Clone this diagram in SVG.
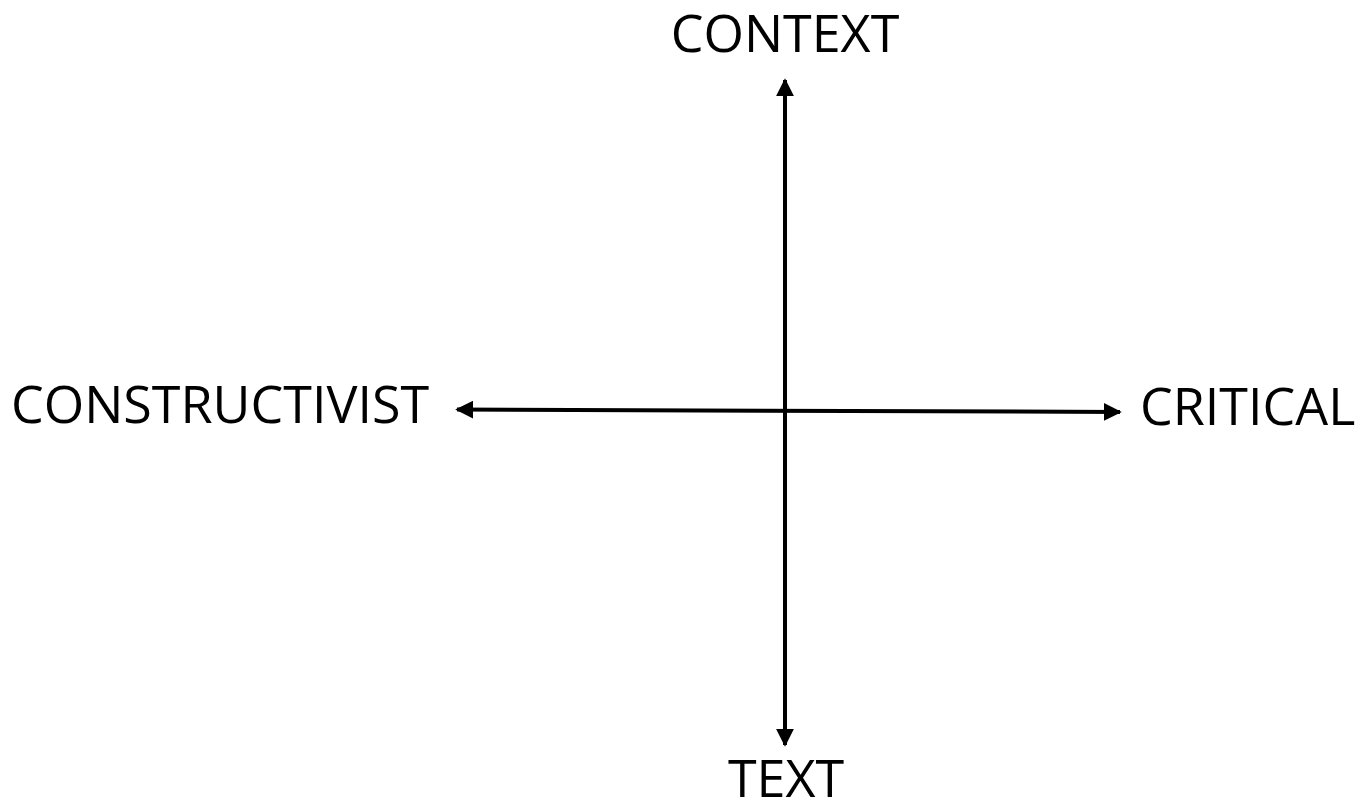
<svg xmlns="http://www.w3.org/2000/svg" width="1372" height="803" viewBox="0 0 1372 803">
<style>
.lbl{font-family:"Open Sans","Noto Sans",sans-serif;font-size:52px;fill:#000}
.ax{stroke:#000;stroke-width:4;fill:none}
</style>
<defs>
<marker id="ah" viewBox="0 0 10 10" refX="9" refY="5" markerWidth="4.5" markerHeight="4.5" markerUnits="strokeWidth" orient="auto-start-reverse">
<path d="M0,0 L10,5 L0,10 z" fill="#000"/>
</marker>
</defs>
<rect width="1372" height="803" fill="#fff"/>
<g id="connectors">
<line class="ax" x1="785" y1="80" x2="785" y2="745" marker-start="url(#ah)" marker-end="url(#ah)"/>
<line class="ax" x1="457" y1="409.5" x2="1120" y2="412" marker-start="url(#ah)" marker-end="url(#ah)"/>
</g>
<g id="context"><text class="lbl" x="785" y="52" text-anchor="middle">CONTEXT</text></g>
<g id="text"><text class="lbl" x="786" y="797" text-anchor="middle">TEXT</text></g>
<g id="constructivist"><text class="lbl" x="11" y="423">CONSTRUCTIVIST</text></g>
<g id="critical"><text class="lbl" x="1140" y="425">CRITICAL</text></g>
</svg>
